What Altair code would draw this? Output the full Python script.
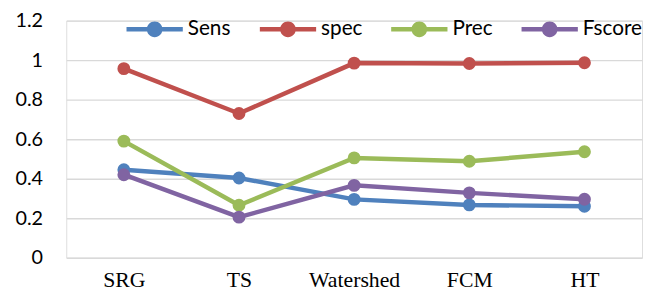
import altair as alt
import pandas as pd

categories = ["SRG", "TS", "Watershed", "FCM", "HT"]
series = ["Sens", "spec", "Prec", "Fscore"]
colors = ["#4F81BD", "#C0504D", "#9BBB59", "#8064A2"]
sens = [0.445, 0.403, 0.295, 0.267, 0.260]
spec = [0.957, 0.730, 0.985, 0.983, 0.987]
prec = [0.590, 0.265, 0.505, 0.488, 0.536]
fscore = [0.420, 0.205, 0.366, 0.328, 0.296]
y_ticks = [0, 0.2, 0.4, 0.6, 0.8, 1.0, 1.2]

rows = []
for name, vals in zip(series, [sens, spec, prec, fscore]):
    for c, v in zip(categories, vals):
        rows.append({"method": c, "series": name, "value": v})
df = pd.DataFrame(rows)

legend_path = ("M-1,-0.08L1,-0.08L1,0.08L-1,0.08Z "
               "M0.28,0A0.28,0.28,0,1,1,-0.28,0A0.28,0.28,0,1,1,0.28,0Z")

chart = alt.Chart(df).mark_line(
    strokeWidth=4.5,
    point=alt.OverlayMarkDef(filled=True, size=170, opacity=1),
).encode(
    x=alt.X("method:N", sort=categories, title=None,
            scale=alt.Scale(type="point", padding=0.5),
            axis=alt.Axis(labelAngle=0, labelFont="Liberation Serif", labelFontSize=22,
                          labelColor="#000000", ticks=False, domain=False, grid=False,
                          labelPadding=12)),
    y=alt.Y("value:Q", title=None,
            scale=alt.Scale(domain=[0, 1.2], nice=False, zero=True),
            axis=alt.Axis(values=y_ticks, format="~g", labelFont="Lato", labelFontSize=20,
                          labelColor="#000000", ticks=False, domain=False,
                          gridColor="#d9d9d9", gridWidth=1.5, labelPadding=24)),
    color=alt.Color("series:N", sort=series,
                    scale=alt.Scale(domain=series, range=colors),
                    legend=alt.Legend(
                        title=None, orient="none", direction="horizontal",
                        legendX=61, legendY=-20,
                        symbolType=legend_path, symbolSize=3249,
                        symbolStrokeWidth=0, symbolOpacity=1,
                        labelFont="Lato", labelFontSize=21, labelColor="#000000",
                        labelOffset=5, columnPadding=29,
                    )),
).properties(
    width=583, height=240,
    autosize=alt.AutoSizeParams(type="none"),
    padding={"left": 59, "top": 11, "right": 3, "bottom": 34},
).configure_view(stroke=None).configure(background="white")

chart.save("out.html", embed_options={"renderer": "svg", "actions": False})
